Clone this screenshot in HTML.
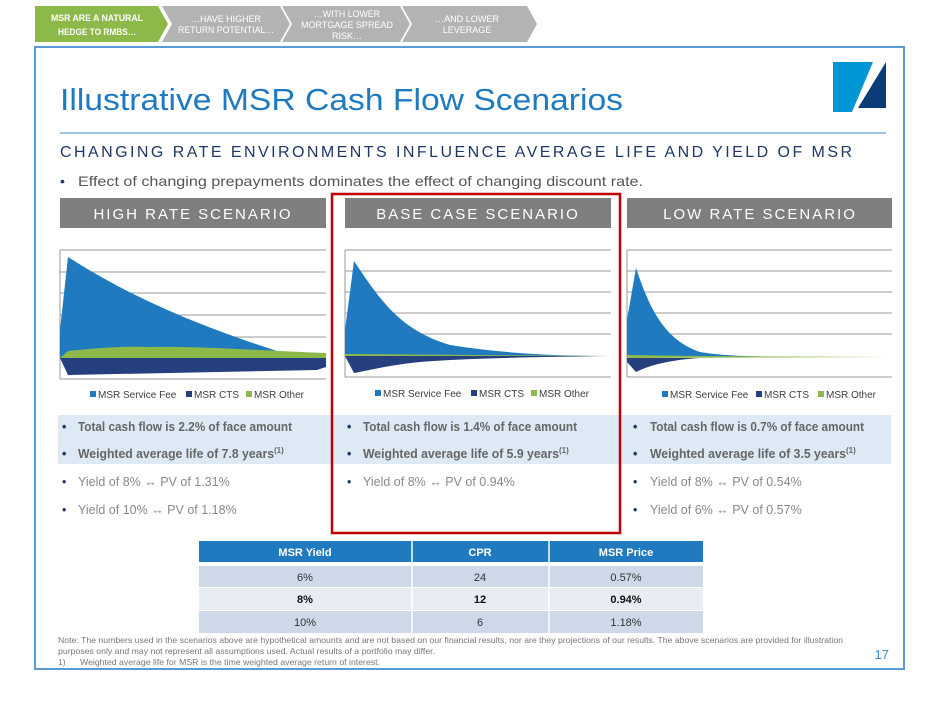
<!DOCTYPE html>
<html><head><meta charset="utf-8"><style>
html,body{margin:0;padding:0;background:#fff;}
svg{display:block;font-family:"Liberation Sans",sans-serif;}
</style></head><body>
<svg width="940" height="705" viewBox="0 0 940 705" xmlns="http://www.w3.org/2000/svg">
<!-- tabs -->
<polygon points="35,6 158,6 168,24 158,42 35,42" fill="#8db84a"/>
<polygon points="162,6 280,6 290,24 280,42 162,42 172,24" fill="#b3b3b3"/>
<polygon points="282,6 400,6 410,24 400,42 282,42 292,24" fill="#b3b3b3"/>
<polygon points="402,6 527,6 537,24 527,42 402,42 412,24" fill="#b3b3b3"/>
<g font-size="9" fill="#fff" text-anchor="middle">
<text x="97" y="21" font-weight="bold" textLength="92" lengthAdjust="spacingAndGlyphs">MSR ARE A NATURAL</text>
<text x="97" y="35" font-weight="bold" textLength="78" lengthAdjust="spacingAndGlyphs">HEDGE TO RMBS…</text>
<text x="226" y="22" textLength="70" lengthAdjust="spacingAndGlyphs">…HAVE HIGHER</text>
<text x="226" y="33" textLength="96" lengthAdjust="spacingAndGlyphs">RETURN POTENTIAL…</text>
<text x="347" y="17" textLength="66" lengthAdjust="spacingAndGlyphs">…WITH LOWER</text>
<text x="347" y="28" textLength="92" lengthAdjust="spacingAndGlyphs">MORTGAGE SPREAD</text>
<text x="347" y="39">RISK…</text>
<text x="467" y="22" textLength="64" lengthAdjust="spacingAndGlyphs">…AND LOWER</text>
<text x="467" y="33">LEVERAGE</text>
</g>
<!-- frame -->
<rect x="35" y="47" width="869" height="622" fill="none" stroke="#5b9bd5" stroke-width="2"/>
<!-- logo -->
<polygon points="833,62 873,62 852,112 833,112" fill="#0096d6"/>
<polygon points="886,62 886,108 858,108" fill="#0d3b78"/>
<!-- title -->
<text x="60" y="110" font-size="31" fill="#1f7ac0" textLength="563" lengthAdjust="spacingAndGlyphs">Illustrative MSR Cash Flow Scenarios</text>
<line x1="60" y1="133" x2="886" y2="133" stroke="#7fb3dc" stroke-width="1.5"/>
<text x="60" y="157" font-size="16" fill="#1f3864" textLength="792" lengthAdjust="spacing">CHANGING RATE ENVIRONMENTS INFLUENCE AVERAGE LIFE AND YIELD OF MSR</text>
<text x="60" y="186" font-size="14" fill="#555"><tspan fill="#1f3864">•</tspan><tspan x="78" textLength="565" lengthAdjust="spacingAndGlyphs">Effect of changing prepayments dominates the effect of changing discount rate.</tspan></text>
<!-- scenario headers -->
<rect x="60" y="198" width="266" height="30" fill="#7f7f7f"/>
<rect x="345" y="198" width="266" height="30" fill="#7f7f7f"/>
<rect x="627" y="198" width="265" height="30" fill="#7f7f7f"/>
<g font-size="15" fill="#fff" text-anchor="middle" letter-spacing="2">
<text x="193" y="219">HIGH RATE SCENARIO</text>
<text x="478" y="219">BASE CASE SCENARIO</text>
<text x="760" y="219">LOW RATE SCENARIO</text>
</g>
<!-- blue band -->
<rect x="58" y="415" width="833" height="49" fill="#ddeaf5"/>
<!-- charts -->
<g stroke="#999" stroke-width="1">
<g><line x1="60" y1="250" x2="326" y2="250"/><line x1="60" y1="272" x2="326" y2="272"/><line x1="60" y1="293" x2="326" y2="293"/><line x1="60" y1="315" x2="326" y2="315"/><line x1="60" y1="337" x2="326" y2="337"/><line x1="60" y1="379" x2="326" y2="379"/><line x1="60" y1="250" x2="60" y2="379"/></g>
<g><line x1="345" y1="250" x2="611" y2="250"/><line x1="345" y1="271" x2="611" y2="271"/><line x1="345" y1="292" x2="611" y2="292"/><line x1="345" y1="313" x2="611" y2="313"/><line x1="345" y1="334" x2="611" y2="334"/><line x1="345" y1="377" x2="611" y2="377"/><line x1="345" y1="250" x2="345" y2="377"/></g>
<g><line x1="627" y1="250" x2="892" y2="250"/><line x1="627" y1="271" x2="892" y2="271"/><line x1="627" y1="292" x2="892" y2="292"/><line x1="627" y1="313" x2="892" y2="313"/><line x1="627" y1="334" x2="892" y2="334"/><line x1="627" y1="377" x2="892" y2="377"/><line x1="627" y1="250" x2="627" y2="377"/></g>
</g>
<!-- high chart -->
<path d="M60,358 L60,330 L68,257 C120,290 180,320 280,352 L326,355 L326,358 Z" fill="#1f7ac0"/>
<path d="M60,358 L68,351 C100,348 120,346 150,347 C200,346 250,350 326,353 L326,358 Z" fill="#8db84a"/>
<path d="M60,358 L326,358 L326,367 L317,370 L68,375 Z" fill="#263f7e"/>
<!-- base chart -->
<path d="M345,356 L345,330 L354,261 C380,300 400,330 450,345 C500,353 550,356 611,356 Z" fill="#1f7ac0"/>
<path d="M345,356 L345,354 L611,356 Z" fill="#8db84a"/>
<path d="M345,356 L611,356 C540,357 470,358 420,362 C390,365 370,370 354,373 Z" fill="#263f7e"/>
<!-- low chart -->
<path d="M627,357 L627,320 L636,268 C650,310 665,340 700,352 C730,357 760,357 892,357 Z" fill="#1f7ac0"/>
<path d="M627,355 L700,356 L892,357 L627,358 Z" fill="#8db84a"/>
<path d="M627,358 L700,358 C670,360 650,365 636,372 L627,362 Z" fill="#263f7e"/>
<!-- legends -->
<g font-size="10" fill="#404040">
<rect x="90" y="391" width="6" height="6" fill="#1f7ac0"/><text x="98" y="398">MSR Service Fee</text>
<rect x="186" y="391" width="6" height="6" fill="#263f7e"/><text x="194" y="398">MSR CTS</text>
<rect x="246" y="391" width="6" height="6" fill="#8db84a"/><text x="254" y="398">MSR Other</text>
<rect x="375" y="390" width="6" height="6" fill="#1f7ac0"/><text x="383" y="397">MSR Service Fee</text>
<rect x="471" y="390" width="6" height="6" fill="#263f7e"/><text x="479" y="397">MSR CTS</text>
<rect x="531" y="390" width="6" height="6" fill="#8db84a"/><text x="539" y="397">MSR Other</text>
<rect x="662" y="391" width="6" height="6" fill="#1f7ac0"/><text x="670" y="398">MSR Service Fee</text>
<rect x="756" y="391" width="6" height="6" fill="#263f7e"/><text x="764" y="398">MSR CTS</text>
<rect x="818" y="391" width="6" height="6" fill="#8db84a"/><text x="826" y="398">MSR Other</text>
</g>
<!-- bullets -->
<g font-size="12.5">
<g font-weight="bold" fill="#666">
<text x="62" y="431"><tspan fill="#1f3864">•</tspan><tspan x="78" textLength="214" lengthAdjust="spacingAndGlyphs">Total cash flow is 2.2% of face amount</tspan></text>
<text x="62" y="458"><tspan fill="#1f3864">•</tspan><tspan x="78" textLength="196" lengthAdjust="spacingAndGlyphs">Weighted average life of 7.8 years</tspan><tspan font-size="8" dy="-5">(1)</tspan></text>
<text x="347" y="431"><tspan fill="#1f3864">•</tspan><tspan x="363" textLength="214" lengthAdjust="spacingAndGlyphs">Total cash flow is 1.4% of face amount</tspan></text>
<text x="347" y="458"><tspan fill="#1f3864">•</tspan><tspan x="363" textLength="196" lengthAdjust="spacingAndGlyphs">Weighted average life of 5.9 years</tspan><tspan font-size="8" dy="-5">(1)</tspan></text>
<text x="633" y="431"><tspan fill="#1f3864">•</tspan><tspan x="650" textLength="214" lengthAdjust="spacingAndGlyphs">Total cash flow is 0.7% of face amount</tspan></text>
<text x="633" y="458"><tspan fill="#1f3864">•</tspan><tspan x="650" textLength="196" lengthAdjust="spacingAndGlyphs">Weighted average life of 3.5 years</tspan><tspan font-size="8" dy="-5">(1)</tspan></text>
</g>
<g fill="#8a8a8a">
<text x="62" y="486"><tspan fill="#1f3864">•</tspan><tspan x="78">Yield of 8% ↔ PV of 1.31%</tspan></text>
<text x="62" y="514"><tspan fill="#1f3864">•</tspan><tspan x="78">Yield of 10% ↔ PV of 1.18%</tspan></text>
<text x="347" y="486"><tspan fill="#1f3864">•</tspan><tspan x="363">Yield of 8% ↔ PV of 0.94%</tspan></text>
<text x="633" y="486"><tspan fill="#1f3864">•</tspan><tspan x="650">Yield of 8% ↔ PV of 0.54%</tspan></text>
<text x="633" y="514"><tspan fill="#1f3864">•</tspan><tspan x="650">Yield of 6% ↔ PV of 0.57%</tspan></text>
</g>
</g>
<!-- red box -->
<rect x="332" y="194" width="288" height="339" fill="none" stroke="#c00000" stroke-width="2.5"/>
<!-- table -->
<rect x="199" y="541" width="504" height="21" fill="#1f7ac0"/>
<rect x="199" y="566" width="504" height="21" fill="#cdd8e8"/>
<rect x="199" y="588" width="504" height="22" fill="#e8edf4"/>
<rect x="199" y="611" width="504" height="22" fill="#cdd8e8"/>
<line x1="412" y1="541" x2="412" y2="633" stroke="#fff" stroke-width="1.5"/>
<line x1="549" y1="541" x2="549" y2="633" stroke="#fff" stroke-width="1.5"/>
<g font-size="11" text-anchor="middle">
<g fill="#fff" font-weight="bold"><text x="305" y="556">MSR Yield</text><text x="480" y="556">CPR</text><text x="626" y="556">MSR Price</text></g>
<g fill="#333"><text x="305" y="581">6%</text><text x="480" y="581">24</text><text x="626" y="581">0.57%</text></g>
<g fill="#111" font-weight="bold"><text x="305" y="603">8%</text><text x="480" y="603">12</text><text x="626" y="603">0.94%</text></g>
<g fill="#333"><text x="305" y="626">10%</text><text x="480" y="626">6</text><text x="626" y="626">1.18%</text></g>
</g>
<!-- footnote -->
<g font-size="8.5" fill="#777">
<text x="58" y="643" textLength="785" lengthAdjust="spacingAndGlyphs">Note: The numbers used in the scenarios above are hypothetical amounts and are not based on our financial results, nor are they projections of our results.  The above scenarios are provided for illustration</text>
<text x="58" y="654" textLength="377" lengthAdjust="spacingAndGlyphs">purposes only and may not represent all assumptions used. Actual results of a portfolio may differ.</text>
<text x="58" y="665">1)</text><text x="80" y="665" textLength="300" lengthAdjust="spacingAndGlyphs">Weighted average life for MSR is the time weighted average return of interest.</text>
</g>
<text x="889" y="659" font-size="13" fill="#3a8fd0" text-anchor="end">17</text>
</svg>
</body></html>
